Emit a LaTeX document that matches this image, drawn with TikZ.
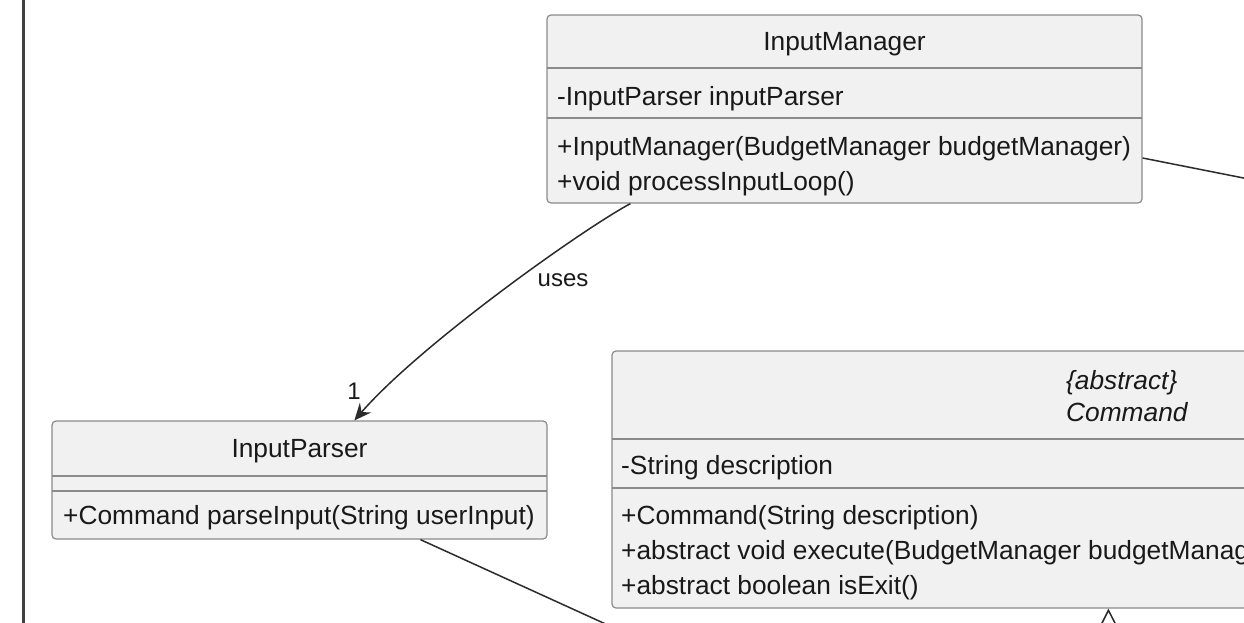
\documentclass[tikz,border=0pt]{standalone}
\usepackage{fontspec}
\setmainfont{Liberation Sans}
\usetikzlibrary{arrows.meta}
\definecolor{boxfill}{HTML}{F1F1F1}
\definecolor{boxline}{HTML}{8A8A8A}
\definecolor{wire}{HTML}{2B2B2B}
\begin{document}
\begin{tikzpicture}[x=1pt, y=-1pt,
			cls/.style={draw=boxline, fill=boxfill, rounded corners=4pt, line width=1.2pt, inner sep=0pt},
			sep/.style={draw=boxline, line width=1.2pt},
			txt/.style={anchor=west, inner sep=0pt, text height=20pt, text depth=4pt, font=\fontsize{26.3}{30}\selectfont, text=black!90},
			head/.style={inner sep=0pt, text height=20pt, text depth=4pt, font=\fontsize{26.3}{30}\selectfont, text=black!90},
			link/.style={draw=wire, line width=1.5pt},
			arrow/.style={link, -{Stealth[length=17pt, width=15pt, inset=6pt]}},
			lbl/.style={inner sep=0pt, font=\fontsize{24}{28}\selectfont, text=black!90}
		]
			\useasboundingbox (0,0) rectangle (1244,622);
			\clip (0,0) rectangle (1244,622);

			% package frame edge
			\draw[line width=3pt, black!75] (23,-5) -- (23,630);

			% InputManager
			\node[cls, minimum width=595pt, minimum height=188pt] (mgr) at (844.5,109) {};
			\draw[sep] (547,68) -- (1142,68);
			\draw[sep] (547,118) -- (1142,118);
			\node[head] (mgrname) at (844.5,42) {InputManager};
			\node[txt] (mgrfield) at (557,97) {-InputParser inputParser};
			\node[txt] (mgrctor) at (557,147) {+InputManager(BudgetManager budgetManager)};
			\node[txt] (mgrloop) at (557,182) {+void processInputLoop()};

			% InputParser
			\node[cls, minimum width=495pt, minimum height=118pt] (parser) at (299.5,480) {};
			\draw[sep] (52,476) -- (547,476);
			\draw[sep] (52,491) -- (547,491);
			\node[head] (parsername) at (299.5,449) {InputParser};
			\node[txt] (parsemeth) at (63,516) {+Command parseInput(String userInput)};

			% Command
			\node[cls, minimum width=1034pt, minimum height=257pt] (cmd) at (1129,479.5) {};
			\draw[sep] (612,439) -- (1646,439);
			\draw[sep] (612,488) -- (1646,488);
			\node[txt, font=\fontsize{26.3}{30}\selectfont\itshape] (cmdstereo) at (1066,381) {\{abstract\}};
			\node[txt, font=\fontsize{26.3}{30}\selectfont\itshape] (cmdname) at (1066,413) {Command};
			\node[txt] (cmdfield) at (621,466) {-String description};
			\node[txt] (cmdctor) at (621,516) {+Command(String description)};
			\node[txt] (cmdexec) at (621,551) {+abstract void execute(BudgetManager budgetManager)};
			\node[txt] (cmdexit) at (621,586) {+abstract boolean isExit()};

			% connectors
			\draw[arrow] ([xshift=84pt]mgr.south west) .. controls +(-50,27) and +(65,-75) .. ([xshift=303pt]parser.north west);
			\node[lbl] (useslbl) at (563,280) {uses};
			\node[lbl] (mult) at (354,391) {1};

			\coordinate (offright) at (1400,209);
			\draw[link] ([yshift=-49pt]mgr.east) -- (offright);

			\coordinate (offbottom) at (700,667);
			\draw[link] ([xshift=369pt]parser.south west) -- (offbottom);

			\coordinate (subcls) at (1109,720);
			\draw[link, -{Triangle[open, length=22pt, width=22pt]}] (subcls) -- ([xshift=497pt]cmd.south west);
		\end{tikzpicture}
\end{document}
